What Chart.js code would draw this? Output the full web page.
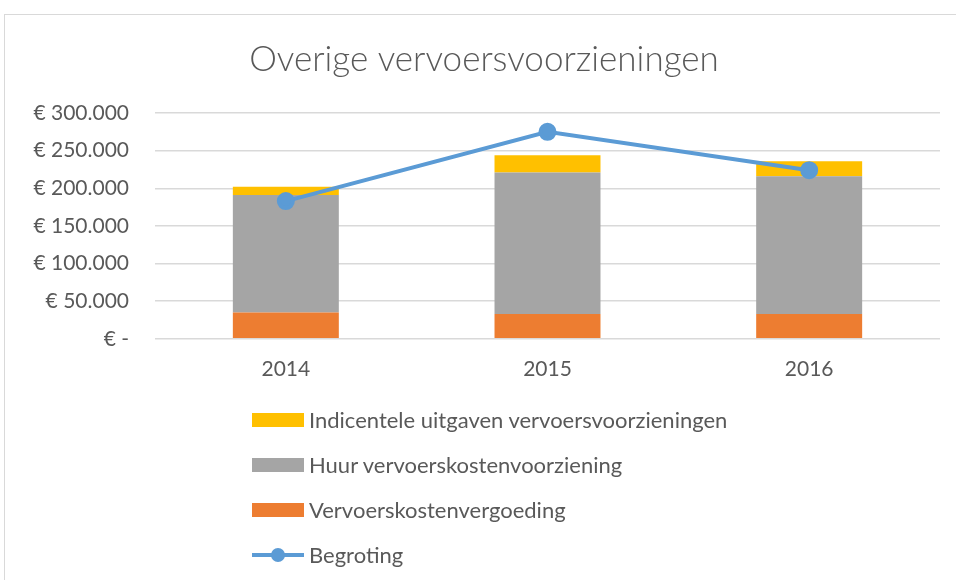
<!DOCTYPE html>
<html>
<head>
<meta charset="utf-8">
<script src="https://cdn.jsdelivr.net/npm/chart.js@4.4.1/dist/chart.umd.min.js"></script>
<style>
    body{ margin:0; background:#fff; }
    #wrap{ position:relative; width:956px; height:580px; overflow:hidden; }
    #frame{ position:absolute; left:4px; top:14px; width:1000px; height:700px; border:1px solid #d9d9d9; box-sizing:border-box; }
    #myChart{ position:absolute; left:0; top:0; }
    #legend{ position:absolute; left:252px; top:397px; font-family:Lato, "Open Sans", sans-serif; font-size:22px; color:#595959; }
    #legend .item{ display:flex; align-items:center; height:45px; }
    #legend .box{ width:52px; height:14px; margin-right:5px; position:relative; flex:none; }
</style>
</head>
<body>
<div id="wrap">
    <div id="frame"></div>
    <canvas id="myChart" width="956" height="580"></canvas>
    <div id="legend"></div>
</div>
<script>
// values
var years = ['2014', '2015', '2016'];
var vergoeding = [35000, 33000, 33000];     // Vervoerskostenvergoeding
var huur = [156000, 188000, 183000];        // Huur vervoerskostenvoorziening
var incidenteel = [11000, 23000, 20000];    // Indicentele uitgaven
var begroting = [183000, 275000, 224000];   // Begroting
var yTicks = [0, 50000, 100000, 150000, 200000, 250000, 300000];

function euro(v){
    if(v == 0){
        return '€ -';
    }
    return '€ ' + v.toString().replace(/\B(?=(\d{3})+(?!\d))/g, '.');
}

var ctx = document.getElementById('myChart').getContext('2d');
var myChart = new Chart(ctx, {
    type: 'bar',
    data: {
        labels: years,
        datasets: [{
            label: 'Begroting',
            type: 'line',
            data: begroting,
            borderColor: '#5b9bd5',
            backgroundColor: '#5b9bd5',
            borderWidth: 4,
            pointRadius: 7,
            pointHoverRadius: 7,
            stack: 'begroting',
            order: 0
        },{
            label: 'Vervoerskostenvergoeding',
            data: vergoeding,
            backgroundColor: '#ed7d31',
            stack: 'kosten',
            order: 1
        },{
            label: 'Huur vervoerskostenvoorziening',
            data: huur,
            backgroundColor: '#a5a5a5',
            stack: 'kosten',
            order: 1
        },{
            label: 'Indicentele uitgaven vervoersvoorzieningen',
            data: incidenteel,
            backgroundColor: '#ffc000',
            stack: 'kosten',
            order: 1
        }]
    },
    options: {
        responsive: false,
        animation: false,
        barPercentage: 0.405,
        categoryPercentage: 1,
        layout: {
            padding: { left: 28, right: 16, top: 0, bottom: 188 }
        },
        plugins: {
            legend: { display: false },
            tooltip: { enabled: false },
            title: {
                display: true,
                text: 'Overige vervoersvoorzieningen',
                color: '#595959',
                font: { family: 'Lato', size: 35, weight: '300' },
                padding: { top: 39, bottom: 32 }
            }
        },
        scales: {
            x: {
                stacked: true,
                grid: { display: false },
                border: { display: false },
                ticks: {
                    color: '#595959',
                    font: { family: 'Lato', size: 21 },
                    padding: 10
                }
            },
            y: {
                stacked: true,
                min: 0,
                max: 300000,
                afterBuildTicks: function(axis){
                    axis.ticks = yTicks.map(function(v){ return { value: v }; });
                },
                afterFit: function(axis){
                    axis.width = 127;
                },
                grid: { color: '#d9d9d9', lineWidth: 1.5, drawTicks: false },
                border: { display: false },
                ticks: {
                    color: '#595959',
                    font: { family: 'Lato', size: 21 },
                    padding: 26,
                    callback: function(v){ return euro(v); }
                }
            }
        }
    }
});

// legend as a vertical list below the chart
function buildLegend(chart){
    var el = document.getElementById('legend');
    var sets = chart.data.datasets;
    var order = [3, 2, 1, 0];
    el.innerHTML = '';
    order.forEach(function(i){
        var ds = sets[i];
        var item = document.createElement('div');
        item.className = 'item';
        var box = document.createElement('div');
        box.className = 'box';
        if(ds.type == 'line'){
            box.innerHTML = '<div style="position:absolute;left:0;top:5px;width:52px;height:4px;background:' + ds.borderColor + '"></div>'
                + '<div style="position:absolute;left:18.5px;top:0;width:14px;height:14px;border-radius:50%;background:' + ds.borderColor + '"></div>';
        }else{
            box.style.background = ds.backgroundColor;
        }
        var txt = document.createElement('span');
        txt.textContent = ds.label;
        item.appendChild(box);
        item.appendChild(txt);
        el.appendChild(item);
    });
}
buildLegend(myChart);
</script>
</body>
</html>
